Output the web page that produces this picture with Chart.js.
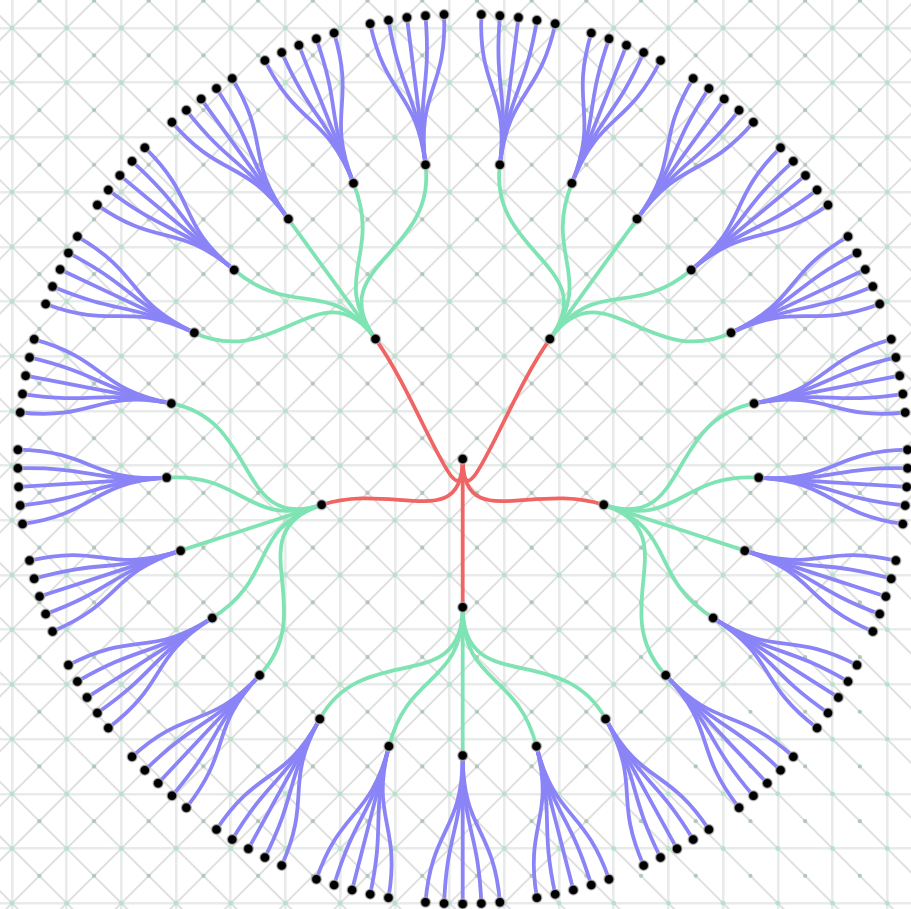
<!DOCTYPE html>
<html>
<head>
<meta charset="utf-8">
<script src="https://cdn.jsdelivr.net/npm/chart.js@4.4.1/dist/chart.umd.min.js"></script>
<style>
html,body{margin:0;padding:0;background:#fff;overflow:hidden}
#wrap{width:911px;height:909px;position:relative}
</style>
</head>
<body>
<div id="wrap"><canvas id="c"></canvas></div>
<script>
// ---- Tree data (hierarchy only) ----
const rootName = 'root';
const branchNames = ['A', 'B', 'C', 'D', 'E'];          // depth 1
const twigsPerBranch = [5, 5, 5, 5, 5];                   // depth 2 count per branch
const leavesPerTwig = [5,5,5,5,5, 5,5,5,5,5, 5,5,5,5,5, 5,5,5,5,5, 5,5,5,5,5]; // depth 3 count per twig

// ---- styles / layout constants ----
const GRID = 54.7;                 // px per grid unit
const X0 = 12, Y0 = 28;            // pixel of grid line 0
const W = 911, H = 909;
const CENTER = {x: (462.7 - X0) / GRID, y: (459 - Y0) / GRID};
const RING = 148.3 / GRID;         // radius per depth level (units)
const TENSION = 0.5;
const EDGE_COLORS = ['#f06464', '#7fe3b3', '#8a84f6'];

// ---- build hierarchy ----
function buildTree() {
  const root = {name: rootName, depth: 0, children: []};
  let t = 0;
  branchNames.forEach((b, i) => {
    const n = {name: b, depth: 1, parent: root, children: []};
    root.children.push(n);
    for (let j = 0; j < twigsPerBranch[i]; j++) {
      const tw = {name: b + (j + 1), depth: 2, parent: n, children: []};
      n.children.push(tw);
      for (let k = 0; k < leavesPerTwig[t]; k++) {
        tw.children.push({name: tw.name + '.' + (k + 1), depth: 3, parent: tw, children: []});
      }
      t++;
    }
  });
  return root;
}

// ---- radial cluster layout (separation 1 for siblings, 2 otherwise) ----
function layout(root) {
  const nodes = [];
  const leaves = [];
  (function walk(n) { nodes.push(n); if (!n.children.length) leaves.push(n); n.children.forEach(walk); })(root);
  let pos = 0, prev = null;
  leaves.forEach(l => {
    if (prev) pos += (prev.parent === l.parent) ? 1 : 2;
    l.px = pos; prev = l;
  });
  const span = pos + 2; // wrap-around gap
  (function setX(n) {
    if (n.children.length) {
      n.children.forEach(setX);
      n.px = n.children.reduce((s, c) => s + c.px, 0) / n.children.length;
    }
  })(root);
  nodes.forEach(n => {
    n.angle = (n.px + 1) / span * 2 * Math.PI;
    const r = n.depth * RING;
    n.x = CENTER.x + r * Math.sin(n.angle);
    n.y = CENTER.y - r * Math.cos(n.angle);
  });
  return nodes;
}

const tree = buildTree();
const nodes = layout(tree);
const pointData = nodes.map(n => ({x: n.x, y: n.y, name: n.name}));

// ---- background pattern plugin (diagonals + dots) and radial links ----
const patternPlugin = {
  id: 'pattern',
  beforeDatasetsDraw(chart) {
    const {ctx, chartArea: a, scales: {x, y}} = chart;
    ctx.save();
    ctx.beginPath();
    ctx.rect(a.left, a.top, a.right - a.left, a.bottom - a.top);
    ctx.clip();
    ctx.strokeStyle = '#e0e0e0';
    ctx.lineWidth = 2;
    for (let k = -25; k <= 25; k++) {
      ctx.beginPath();
      ctx.moveTo(x.getPixelForValue(-3), y.getPixelForValue(-3 - k));
      ctx.lineTo(x.getPixelForValue(20), y.getPixelForValue(20 - k));
      ctx.stroke();
      ctx.beginPath();
      ctx.moveTo(x.getPixelForValue(-3), y.getPixelForValue(k + 3));
      ctx.lineTo(x.getPixelForValue(20), y.getPixelForValue(k - 20));
      ctx.stroke();
    }
    for (let i = -1; i <= 17; i++) {
      for (let j = -1; j <= 17; j++) {
        ctx.fillStyle = '#b3e3ca';
        ctx.beginPath();
        ctx.arc(x.getPixelForValue(i), y.getPixelForValue(j), 2.4, 0, 2 * Math.PI);
        ctx.fill();
        ctx.fillStyle = '#aec9bb';
        ctx.beginPath();
        ctx.arc(x.getPixelForValue(i + 0.5), y.getPixelForValue(j + 0.5), 2.1, 0, 2 * Math.PI);
        ctx.fill();
      }
    }
    ctx.restore();

    // edges (radial bezier links)
    ctx.save();
    ctx.lineCap = 'round';
    ctx.lineWidth = 3.8;
    const list = nodes.filter(n => n.parent).sort((p, q) => q.depth - p.depth);
    list.forEach(n => {
      const p = n.parent;
      const sx = x.getPixelForValue(p.x), sy = y.getPixelForValue(p.y);
      const ex = x.getPixelForValue(n.x), ey = y.getPixelForValue(n.y);
      const L = Math.hypot(ex - sx, ey - sy) * TENSION;
      const c1x = sx + Math.sin(p.angle) * L, c1y = sy - Math.cos(p.angle) * L;
      const c2x = ex - Math.sin(n.angle) * L, c2y = ey + Math.cos(n.angle) * L;
      ctx.strokeStyle = EDGE_COLORS[p.depth];
      ctx.beginPath();
      ctx.moveTo(sx, sy);
      ctx.bezierCurveTo(c1x, c1y, c2x, c2y, ex, ey);
      ctx.stroke();
    });
    ctx.restore();
  }
};

new Chart(document.getElementById('c'), {
  type: 'scatter',
  data: {
    datasets: [{
      label: 'nodes',
      data: pointData,
      pointRadius: 5,
      pointHoverRadius: 5,
      backgroundColor: '#000',
      borderColor: 'rgba(190,190,190,0.7)',
      borderWidth: 1.5
    }]
  },
  options: {
    responsive: true,
    maintainAspectRatio: false,
    animation: false,
    layout: {padding: 0, autoPadding: false},
    plugins: {legend: {display: false}, tooltip: {enabled: false}},
    scales: {
      x: {
        type: 'linear',
        min: -X0 / GRID, max: (W - X0) / GRID,
        ticks: {display: false, stepSize: 1, includeBounds: false},
        grid: {color: '#e8ebe9', lineWidth: 2.6, drawTicks: false, tickLength: 0},
        border: {display: false}
      },
      y: {
        type: 'linear', reverse: true,
        min: -Y0 / GRID, max: (H - Y0) / GRID,
        ticks: {display: false, stepSize: 1, includeBounds: false},
        grid: {color: '#e8ebe9', lineWidth: 2.6, drawTicks: false, tickLength: 0},
        border: {display: false}
      }
    }
  },
  plugins: [patternPlugin]
});
</script>
</body>
</html>
